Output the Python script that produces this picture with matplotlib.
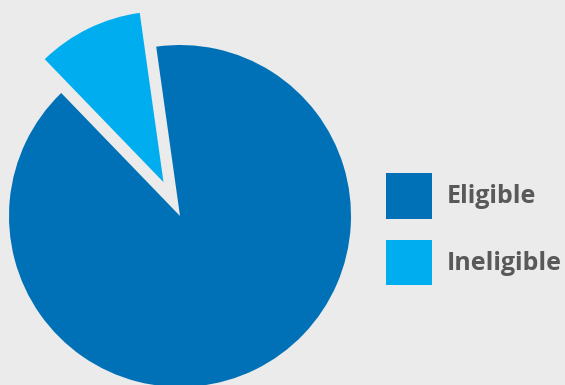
import matplotlib.pyplot as plt

labels = ["Eligible", "Ineligible"]
shares = [90, 10]
colors = ["#0071B7", "#00AEEF"]
explode = [0, 0.22]

fig = plt.figure(figsize=(5.65, 3.85), dpi=100, facecolor="#EBEBEB")
W, H = 565, 385
r = 171
cx, cy = 180, 385 - 216
half = 1.25 * r
ax = fig.add_axes([(cx - half) / W, (cy - half) / H, 2 * half / W, 2 * half / H])
ax.set_facecolor("#EBEBEB")

wedges, _ = ax.pie(shares, colors=colors, explode=explode, startangle=98,
                   counterclock=False, wedgeprops={"linewidth": 0})
ax.set_xlim(-1.25, 1.25)
ax.set_ylim(-1.25, 1.25)

# legend sized in font units: 18pt -> 25px
leg = fig.legend(wedges, labels, loc="upper left",
                 bbox_to_anchor=(386 / W, (385 - 173) / H),
                 frameon=False, borderpad=0, borderaxespad=0,
                 handlelength=1.85, handleheight=2.43, handletextpad=0.58,
                 labelspacing=0.84,
                 prop={"family": "Open Sans", "weight": "bold", "size": 18})
for t in leg.get_texts():
    t.set_color("#595959")

fig.savefig("out.png", dpi=100, facecolor=fig.get_facecolor())
